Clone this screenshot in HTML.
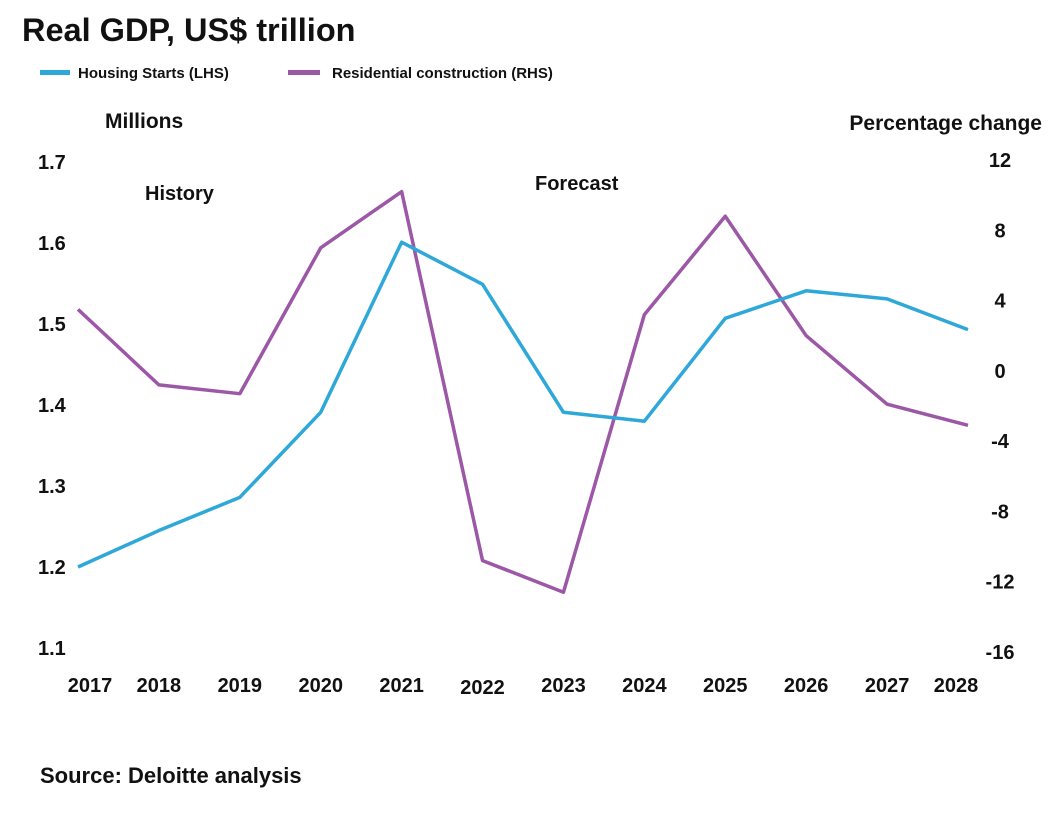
<!DOCTYPE html>
<html><head><meta charset="utf-8"><style>
body{margin:0;background:#fff;font-family:"Liberation Sans",Arial,sans-serif;}
svg text{font-family:"Liberation Sans",Arial,sans-serif;font-weight:bold;fill:#111;}
</style></head><body>
<svg id="chart" width="1060" height="810">
<text x="22" y="41" font-size="32.5">Real GDP, US$ trillion</text>
<g>
<rect x="40" y="70" width="30" height="5" fill="#2ea8d8"/>
<text x="78" y="78" font-size="15">Housing Starts (LHS)</text>
<rect x="288" y="70" width="32" height="5" fill="#9c57a6"/>
<text x="332" y="78" font-size="15">Residential construction (RHS)</text>
</g>
<text x="105" y="128" font-size="21">Millions</text>
<text x="1042" y="130" font-size="21" text-anchor="end">Percentage change</text>
<text x="145" y="200" font-size="20">History</text>
<text x="535" y="190" font-size="20">Forecast</text>
<text x="40" y="783" font-size="22">Source: Deloitte analysis</text>
<g id="axes"></g>
<g id="marks"></g>
</svg>
<script>
const years=["2017","2018","2019","2020","2021","2022","2023","2024","2025","2026","2027","2028"];
const housing=[1.2,1.245,1.286,1.391,1.601,1.549,1.391,1.38,1.507,1.541,1.531,1.493];
const residential=[3.5,-0.8,-1.3,7.0,10.2,-10.8,-12.6,3.2,8.8,2.0,-1.9,-3.1];
const leftTicks=[1.1,1.2,1.3,1.4,1.5,1.6,1.7];
const rightTicks=[-16,-12,-8,-4,0,4,8,12];
const NS="http://www.w3.org/2000/svg";
const x=i=>78+i*(968-78)/(years.length-1);
const yL=v=>648-(v-1.1)*810;
const yR=v=>160+(12-v)*17.57;
const axes=document.getElementById('axes'),marks=document.getElementById('marks');
function txt(p,X,Y,s,anchor){const t=document.createElementNS(NS,'text');t.setAttribute('x',X);t.setAttribute('y',Y);t.setAttribute('font-size',20);t.setAttribute('text-anchor',anchor);t.textContent=s;p.appendChild(t);return t;}
leftTicks.forEach(v=>{const t=txt(axes,38,yL(v)+7,v.toFixed(1),'start');

});
rightTicks.forEach(v=>{const t=txt(axes,1000,yR(v)+7,String(v),'middle');

});
years.forEach((y,i)=>{const t=txt(axes,i==0?90:x(i)+(i==11?-12:0),i==5?694:692,y,'middle');

});
function line(vals,f,col,name){const p=document.createElementNS(NS,'polyline');
p.setAttribute('points',vals.map((v,i)=>x(i)+','+f(v)).join(' '));
p.setAttribute('fill','none');p.setAttribute('stroke',col);p.setAttribute('stroke-width',3.5);p.setAttribute('stroke-linejoin','round');


marks.appendChild(p);}
line(residential,yR,'#9c57a6','residential-line');
line(housing,yL,'#2ea8d8','housing-line');
</script>
</body></html>
